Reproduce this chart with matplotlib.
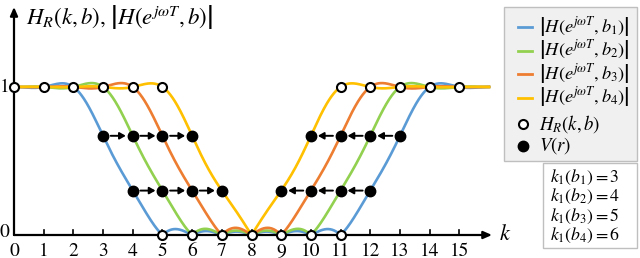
import numpy as np
import matplotlib.pyplot as plt
from matplotlib.patches import Rectangle
from matplotlib.lines import Line2D

plt.rcParams['mathtext.fontset'] = 'stix'
plt.rcParams['font.family'] = 'STIXGeneral'

# DATOS
N = 16
k1_vals = [3, 4, 5, 6]
T1 = 0.67   # primera muestra de transicion
T2 = 0.30   # segunda muestra de transicion
colores = ['#5B9BD5', '#92D050', '#ED7D31', '#FFC000']
etiquetas = [r'$\left|H(e^{j\omega T},b_{%d})\right|$' % (i + 1) for i in range(4)]
textos_k1 = ['$k_1(b_%d) = %d$' % (i + 1, k1) for i, k1 in enumerate(k1_vals)]

# muestras H_R(k,b) en 1 y en 0
k_unos = [0, 1, 2, 3, 4, 5, 11, 12, 13, 14, 15]
k_ceros = [5, 6, 7, 8, 9, 10, 11]
# muestras V(r) (filas de transicion)
k_sup_izq = [3, 4, 5, 6]
k_inf_izq = [4, 5, 6, 7]
k_sup_der = [13, 12, 11, 10]
k_inf_der = [12, 11, 10, 9]


def muestras(k1):
    # muestras en frecuencia con fase lineal (N par)
    A = np.zeros(N)
    for k in range(N // 2):
        if k < k1:
            A[k] = 1.0
        elif k == k1:
            A[k] = T1
        elif k == k1 + 1:
            A[k] = T2
    H = np.zeros(N, dtype=complex)
    for k in range(N // 2):
        H[k] = A[k] * np.exp(-1j * np.pi * k * (N - 1) / N)
    for k in range(1, N // 2):
        H[N - k] = np.conj(H[k])
    return H


W, Hpx = 640, 258


def fx(px):
    return px / W


def fy(py):
    return 1 - py / Hpx


# PROCEDIMIENTO
M = 2048
fig = plt.figure(figsize=(6.4, 2.58), dpi=100)
ax = fig.add_axes([fx(14), fy(235), (492 - 14) / W, (235 - 7) / Hpx])
ax.set_xlim(0, 16.1)
ax.set_ylim(0, 1.54)
for s in ax.spines.values():
    s.set_visible(False)
ax.set_xticks([])
ax.set_yticks([])

for i, k1 in enumerate(k1_vals):
    h = np.real(np.fft.ifft(muestras(k1)))
    Hw = np.abs(np.fft.fft(h, M))
    kw = np.append(np.arange(M) * N / M, N)
    Hw = np.append(Hw, Hw[0])
    ax.plot(kw, Hw, color=colores[i], lw=1.9, zorder=2, clip_on=False)

# ejes con flecha
flecha = dict(arrowstyle='-|>,head_length=0.5,head_width=0.22', color='black', lw=1.6,
              shrinkA=0, shrinkB=0)
ax.annotate('', xy=(16.1, 0), xytext=(0, 0), arrowprops=flecha, annotation_clip=False, zorder=3)
ax.annotate('', xy=(0, 1.54), xytext=(0, 0), arrowprops=flecha, annotation_clip=False, zorder=3)
for k in range(16):
    ax.plot([k, k], [0, 0.035], color='black', lw=1.2, clip_on=False, zorder=3)
    ax.text(k, -0.05, str(k), ha='center', va='top', fontsize=14)
ax.text(-0.14, 1.0, '1', ha='right', va='center', fontsize=14)
ax.text(-0.14, 0.02, '0', ha='right', va='center', fontsize=14)
ax.text(16.35, 0.0, '$k$', ha='left', va='center', fontsize=16)
ax.text(0.4, 1.47, r'$H_R(k,b)$, $\left|H(e^{j\omega T},b)\right|$', ha='left', va='center',
        fontsize=16.5)

# muestras
ax.plot(k_unos, [1] * len(k_unos), 'o', mfc='white', mec='black', mew=1.5, ms=6.5, zorder=5,
        clip_on=False)
ax.plot(k_ceros, [0] * len(k_ceros), 'o', mfc='white', mec='black', mew=1.5, ms=6.5, zorder=5,
        clip_on=False)
filas = [(k_sup_izq, T1), (k_inf_izq, T2), (k_sup_der, T1), (k_inf_der, T2)]
for ks, v in filas:
    ax.plot(ks, [v] * len(ks), 'o', color='black', ms=7.5, zorder=5)
    for a, b in zip(ks[:-1], ks[1:]):
        ax.annotate('', xy=(b, v), xytext=(a, v),
                    arrowprops=dict(arrowstyle='-|>,head_length=0.35,head_width=0.2',
                                    color='black', lw=1.4, shrinkA=5.5, shrinkB=5), zorder=4)

# leyenda (dibujada a mano)
fig.patches.append(Rectangle((fx(504), fy(161)), (637 - 504) / W, (161 - 7) / Hpx,
                             transform=fig.transFigure, fc='#F0F0F0', ec='#BFBFBF', lw=1))
filas_ley = [27, 50.5, 74, 97.5]
for i, yy in enumerate(filas_ley):
    fig.lines.append(Line2D([fx(518), fx(532)], [fy(yy), fy(yy)], transform=fig.transFigure,
                            color=colores[i], lw=2))
    fig.text(fx(539), fy(yy), etiquetas[i], ha='left', va='center', fontsize=13.2)
fig.lines.append(Line2D([fx(523)], [fy(124)], transform=fig.transFigure, ls='none', marker='o',
                        mfc='white', mec='black', mew=1.5, ms=6.5))
fig.text(fx(539), fy(124), r'$H_R(k,b)$', ha='left', va='center', fontsize=13.5)
fig.lines.append(Line2D([fx(523)], [fy(146)], transform=fig.transFigure, ls='none', marker='o',
                        color='black', ms=7.5))
fig.text(fx(539), fy(146), r'$V(r)$', ha='left', va='center', fontsize=13.5)

# recuadro k1
fig.patches.append(Rectangle((fx(543), fy(248)), (637 - 543) / W, (248 - 163) / Hpx,
                             transform=fig.transFigure, fc='white', ec='#BFBFBF', lw=1))
for t, yy in zip(textos_k1, [177, 196, 216, 235]):
    fig.text(fx(550), fy(yy), t, ha='left', va='center', fontsize=12.8)

plt.savefig('out.png', dpi=100)
